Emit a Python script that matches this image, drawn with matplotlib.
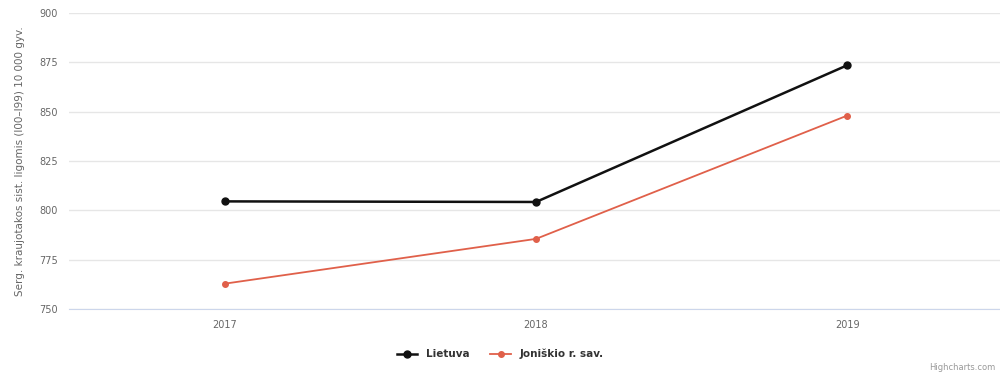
import matplotlib.pyplot as plt

years = ["2017", "2018", "2019"]
lietuva = [804.5, 804.2, 873.5]
joniskis = [762.8, 785.5, 848.0]

fig = plt.figure(figsize=(10, 3.8), dpi=100)
ax = fig.add_axes([0.069, 0.187, 0.934, 0.779])

x = range(len(years))
ax.plot(x, lietuva, color="#111111", lw=1.8, marker="o", ms=5, label="Lietuva", zorder=3)
ax.plot(x, joniskis, color="#e0604a", lw=1.3, marker="o", ms=4, label="Joniškio r. sav.", zorder=3)

ax.set_xlim(-0.5, 2.5)
ax.set_ylim(750, 900)
ax.set_yticks([750, 775, 800, 825, 850, 875, 900])
ax.set_xticks(list(x))
ax.set_xticklabels(years)
ax.grid(axis="y", color="#e6e6e6", lw=1)
ax.set_axisbelow(True)
for s in ax.spines.values():
    s.set_visible(False)
ax.spines["bottom"].set_visible(True)
ax.spines["bottom"].set_color("#ccd6eb")
ax.tick_params(axis="both", length=0, labelsize=7, colors="#666666", pad=8)
ax.set_ylabel("Serg. kraujotakos sist. ligomis (I00–I99) 10 000 gyv.", fontsize=7.5, color="#666666", labelpad=10)

leg = fig.legend(loc="lower center", bbox_to_anchor=(0.5, 0.03), ncol=2, frameon=False,
                 fontsize=7.5, handlelength=2, columnspacing=2)
for t in leg.get_texts():
    t.set_color("#333333")
    t.set_fontweight("bold")

fig.text(0.995, 0.02, "Highcharts.com", ha="right", va="bottom", fontsize=6, color="#999999")

fig.savefig("out.png", dpi=100)
